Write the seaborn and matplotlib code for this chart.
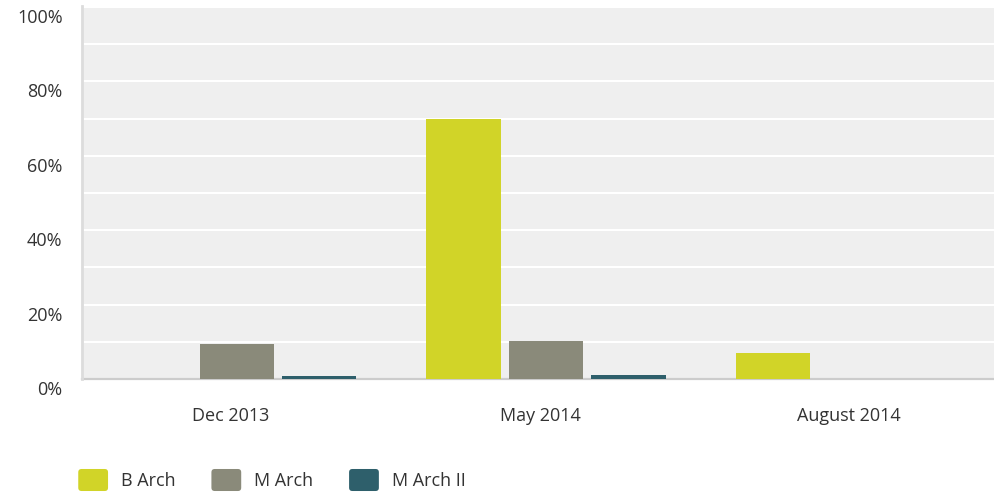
import matplotlib
matplotlib.use("Agg")
import matplotlib.pyplot as plt
import matplotlib.transforms as mtransforms
from matplotlib.patches import Patch, FancyBboxPatch
from matplotlib.legend_handler import HandlerPatch
import seaborn as sns
import pandas as pd

# ---- data ----
categories = ["Dec 2013", "May 2014", "August 2014"]
series = ["B Arch", "M Arch", "M Arch II"]
b_arch = [0.0, 70.0, 7.0]
m_arch = [9.4, 10.2, 0.0]
m_arch_ii = [0.8, 1.1, 0.0]
y_ticks = [0, 20, 40, 60, 80, 100]
y_tick_labels = ["0%", "20%", "40%", "60%", "80%", "100%"]
colors = ["#d1d428", "#8a8a7a", "#2e5f6b"]

rows = []
for s, vals in zip(series, [b_arch, m_arch, m_arch_ii]):
    for c, v in zip(categories, vals):
        rows.append({"period": c, "program": s, "value": v})
df = pd.DataFrame(rows)

plt.rcParams["font.family"] = ["Open Sans", "DejaVu Sans"]
text_color = "#333333"
fs = 13

fig = plt.figure(figsize=(9.94, 4.94), dpi=100)
ax = fig.add_axes([82 / 994, 115 / 494, 928 / 994, 373 / 494])
ax.set_facecolor("#efefef")

sns.barplot(data=df, x="period", y="value", hue="program", order=categories,
            hue_order=series, palette=colors, width=0.8, gap=0.1,
            saturation=1, ax=ax, legend=False, zorder=3)

ax.set_ylim(0, 100.27)
ax.set_yticks(y_ticks)
ax.set_yticklabels(y_tick_labels)
ax.set_yticks(list(range(10, 100, 20)), minor=True)
ax.grid(True, axis="y", which="both", color="white", linewidth=1.5, zorder=1)
ax.set_axisbelow(True)
ax.set_xlabel("")
ax.set_ylabel("")

ax.tick_params(axis="y", which="both", length=0, pad=14, labelsize=fs, labelcolor=text_color)
ax.tick_params(axis="x", length=0, pad=20, labelsize=fs, labelcolor=text_color)

ydown = mtransforms.ScaledTranslation(0, -9 / 100, fig.dpi_scale_trans)
for lab in ax.get_yticklabels():
    lab.set_transform(lab.get_transform() + ydown)
xleft = mtransforms.ScaledTranslation(-6 / 100, 0, fig.dpi_scale_trans)
for lab in ax.get_xticklabels():
    lab.set_transform(lab.get_transform() + xleft)

for side in ["top", "right"]:
    ax.spines[side].set_visible(False)
ax.spines["left"].set_color("#dcdcdc")
ax.spines["left"].set_linewidth(2)
ax.spines["bottom"].set_color("#cccccc")
ax.spines["bottom"].set_linewidth(1.6)
ax.spines["bottom"].set_zorder(2)


class RoundHandler(HandlerPatch):
    def create_artists(self, legend, orig_handle, xdescent, ydescent, width,
                       height, fontsize, trans):
        p = FancyBboxPatch((-xdescent, -ydescent), width, height,
                           boxstyle="round,pad=0,rounding_size=%f" % (height * 0.15),
                           facecolor=orig_handle.get_facecolor(),
                           edgecolor="none", transform=trans)
        return [p]


handles = [Patch(facecolor=c) for c in colors]
leg = fig.legend(handles, series, loc="center left",
                 bbox_to_anchor=(62 / 994, 1 - 480 / 494), ncol=3, frameon=False,
                 handlelength=1.65, handleheight=1.5, handletextpad=0.7,
                 columnspacing=2.0, fontsize=fs,
                 handler_map={Patch: RoundHandler()})
for t in leg.get_texts():
    t.set_color(text_color)

fig.savefig("out.png", dpi=100)
